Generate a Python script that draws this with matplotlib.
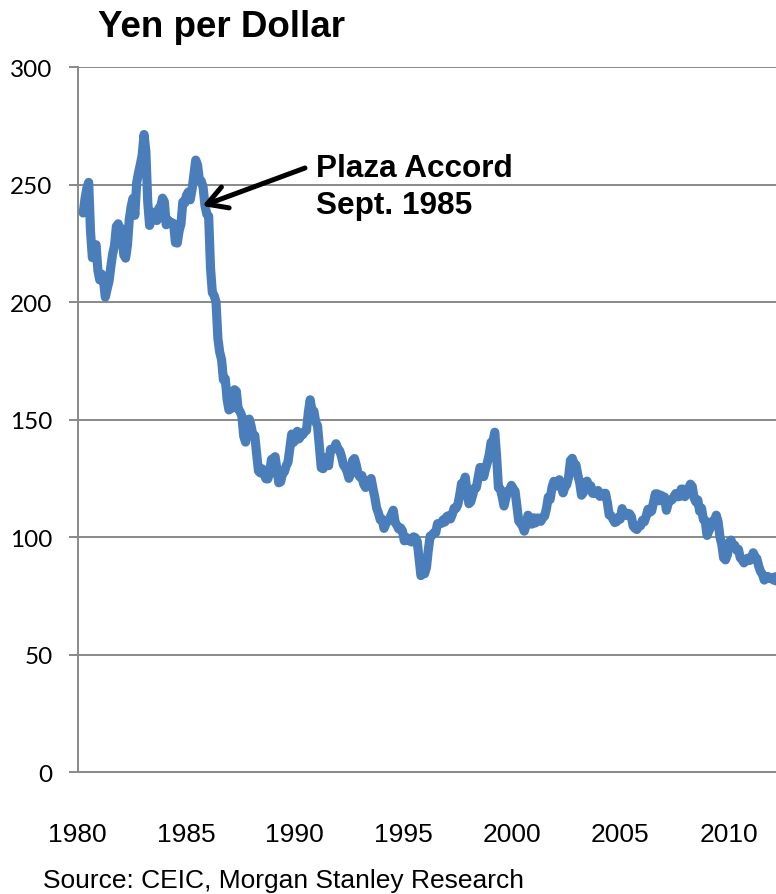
import numpy as np
import matplotlib
matplotlib.use("Agg")
import matplotlib.pyplot as plt
from matplotlib import font_manager

# monthly average yen per dollar, Jan 1980 onwards
yen_1980s = [
    238.0, 244.0, 248.5, 251.0, 230.0, 219.0, 222.0, 224.5, 213.5, 209.5, 212.0, 209.5,
    202.2, 205.7, 208.9, 215.1, 220.6, 224.1, 232.3, 233.4, 229.8, 231.3, 220.2, 218.8,
    224.3, 235.3, 240.7, 244.2, 237.0, 250.9, 255.1, 258.7, 262.7, 271.4, 264.0, 242.6,
    232.7, 236.0, 238.3, 237.6, 234.8, 240.0, 240.5, 244.3, 242.8, 233.0, 235.0, 234.1,
    233.9, 233.5, 225.4, 225.2, 230.4, 233.3, 242.7, 242.2, 245.5, 246.9, 243.6, 247.9,
    254.2, 260.5, 258.4, 251.7, 251.6, 248.9, 241.1, 237.5, 236.6, 214.7, 204.1, 202.8,
    200.1, 184.6, 178.7, 175.6, 167.0, 167.5, 158.6, 154.2, 154.7, 156.5, 162.8, 162.1,
    154.5, 153.5, 151.6, 143.0, 140.5, 144.5, 150.3, 147.3, 143.3, 143.3, 135.4, 128.2,
    127.4, 129.1, 127.2, 124.9, 124.8, 127.2, 133.1, 133.6, 134.3, 128.9, 123.2, 123.6,
    127.2, 127.8, 130.4, 132.0, 137.9, 143.9, 140.4, 141.5, 145.1, 141.9, 143.5, 143.7,
]
yen_1990s = [
    145.1, 145.5, 153.1, 158.5, 153.5, 153.7, 149.1, 147.4, 138.4, 129.6, 129.2, 133.9,
    133.7, 130.5, 137.4, 137.2, 138.0, 139.8, 137.8, 136.8, 134.3, 130.8, 129.7, 128.0,
    125.1, 127.6, 132.7, 133.5, 130.6, 126.9, 125.6, 126.3, 122.6, 121.2, 123.9, 123.9,
    125.0, 120.8, 117.1, 112.4, 110.3, 107.4, 107.7, 103.8, 105.7, 107.0, 107.8, 109.7,
    111.5, 106.3, 105.1, 103.5, 104.0, 102.7, 98.5, 100.0, 98.8, 98.4, 98.0, 100.2,
    99.8, 98.2, 90.8, 83.7, 85.2, 84.5, 87.2, 94.6, 100.5, 100.8, 101.9, 101.9,
    105.8, 105.8, 105.9, 107.4, 106.5, 108.8, 109.2, 107.8, 109.8, 112.4, 112.3, 113.9,
    117.9, 122.9, 122.7, 125.6, 119.2, 114.3, 115.1, 117.9, 120.9, 121.1, 125.4, 129.7,
    129.6, 125.8, 129.1, 131.9, 135.1, 140.4, 140.7, 144.7, 134.5, 121.1, 120.6, 117.4,
    113.3, 116.7, 119.6, 119.8, 122.1, 120.7, 119.6, 113.2, 106.9, 105.9, 104.7, 102.6,
]
yen_2000s = [
    105.3, 109.4, 106.3, 105.6, 108.3, 106.1, 108.2, 108.1, 106.8, 108.4, 109.0, 112.2,
    117.1, 116.1, 121.2, 123.8, 121.8, 122.2, 124.5, 121.6, 118.9, 121.4, 122.4, 125.6,
    132.7, 133.6, 131.0, 130.8, 126.4, 123.3, 117.9, 119.0, 120.5, 123.9, 121.6, 121.9,
    118.7, 119.3, 118.6, 119.9, 117.4, 118.3, 118.7, 118.7, 114.8, 109.5, 109.2, 107.7,
    106.3, 106.6, 108.5, 107.7, 112.2, 109.4, 109.3, 110.2, 110.0, 108.8, 104.7, 103.8,
    103.3, 104.9, 104.9, 107.2, 106.6, 108.8, 111.9, 110.6, 111.2, 114.9, 118.5, 118.5,
    115.5, 117.9, 117.3, 117.1, 111.5, 114.6, 115.7, 115.9, 117.2, 118.6, 117.3, 117.3,
    120.5, 120.5, 117.3, 118.8, 120.8, 122.6, 121.6, 116.7, 115.0, 115.9, 111.1, 112.4,
    107.6, 107.1, 100.8, 102.7, 104.4, 106.9, 106.9, 109.4, 106.6, 100.1, 96.9, 91.2,
    90.4, 92.5, 97.9, 98.8, 96.5, 96.6, 94.5, 94.9, 91.3, 90.4, 89.1, 89.9,
]
yen_2010s = [
    91.1, 90.1, 90.7, 93.4, 91.8, 90.9, 87.7, 85.4, 84.3, 81.8, 82.5, 83.3,
    82.6, 82.6, 81.8, 83.2, 81.1, 80.5, 79.4, 77.1, 76.9, 76.7, 77.5, 77.8,
]

label_years = ["1980", "1985", "1990", "1995", "2000", "2005", "2010"]
y_ticks = [0, 50, 100, 150, 200, 250, 300]

values = np.array(yen_1980s + yen_1990s + yen_2000s + yen_2010s)
t = 1980 + np.arange(len(values)) / 12.0

names = {f.name for f in font_manager.fontManager.ttflist}
if "Liberation Sans Narrow" in names:
    xfont, xsize = ["Liberation Sans Narrow", "Liberation Sans"], 22
else:
    xfont, xsize = ["Liberation Sans"], 19

fig = plt.figure(figsize=(7.76, 8.95), dpi=100)
ax = fig.add_axes([0.1, 0.136, 0.9, 0.7877])

grid_c = "#898989"
ax.plot(t, values, color="#4a7ebb", lw=6.6, solid_joinstyle="round",
        solid_capstyle="round", zorder=3)

ax.set_xlim(1980, 2011.28)
ax.set_ylim(0, 300)
ax.set_yticks(y_ticks)
ax.yaxis.grid(True, color=grid_c, lw=1.4)
ax.set_axisbelow(True)
for s in ["top", "right"]:
    ax.spines[s].set_visible(False)
for s in ["left", "bottom"]:
    ax.spines[s].set_color(grid_c)
    ax.spines[s].set_linewidth(1.4)

# excel-style labels sit a little left of the year start
ax.set_xticks(np.linspace(1979.75, 2009.15, len(label_years)))
ax.set_xticklabels(label_years, fontfamily=xfont, fontsize=xsize)
ax.tick_params(axis="x", length=0, pad=36)
ax.tick_params(axis="y", length=6.5, width=1.4, color=grid_c, pad=11.5,
               labelsize=17.5)
for lab in ax.get_yticklabels():
    lab.set_fontfamily(["Lato", "DejaVu Sans"])

fig.text(98 / 776, 1 - 37 / 895, "Yen per Dollar", fontsize=26.5,
         fontweight="bold", family="Liberation Sans", va="baseline")

fig.text(316 / 776, 1 - 177 / 895, "Plaza Accord", fontsize=22.7,
         fontweight="bold", family="Liberation Sans", va="baseline")
fig.text(316 / 776, 1 - 214 / 895, "Sept. 1985", fontsize=22.7,
         fontweight="bold", family="Liberation Sans", va="baseline")
ax.annotate("", xy=(1985.38, 241), xycoords="data",
            xytext=(305, 895 - 169), textcoords="figure pixels",
            arrowprops=dict(arrowstyle="->, head_length=0.7, head_width=0.4",
                            lw=3.6, color="black", mutation_scale=20,
                            shrinkA=0, shrinkB=0))

fig.text(43 / 776, 1 - 888 / 895, "Source: CEIC, Morgan Stanley Research",
         fontsize=xsize, family=xfont, va="baseline")

fig.savefig("out.png", dpi=100, facecolor="white")
